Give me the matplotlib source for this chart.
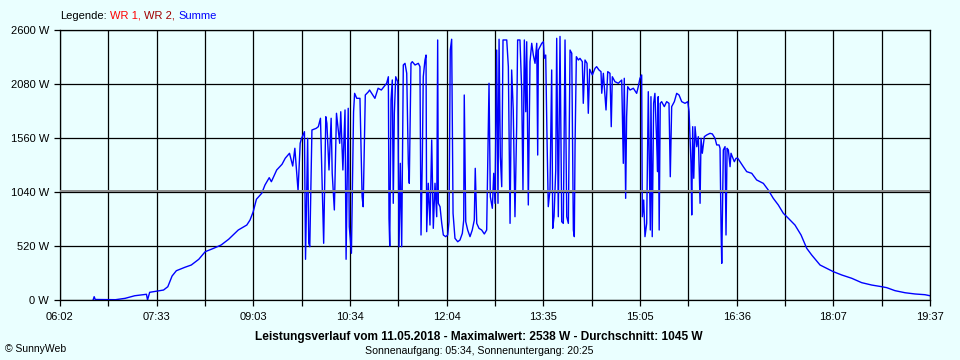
import matplotlib
matplotlib.use("Agg")
import matplotlib.pyplot as plt

# time of day in minutes after midnight, power in W (Summe)
minutes = [
    393, 394, 395, 414, 423, 432, 443, 444, 446, 459,
    463, 467, 471, 479, 485, 492, 498, 506, 513, 520,
    529, 537, 540, 543, 546, 551, 554, 558, 560, 565,
    570, 573, 577, 580, 582, 585, 587, 588, 591, 592,
    594, 595, 596, 598, 602, 604, 606, 609, 611, 612,
    614, 616, 617, 619, 621, 624, 625, 627, 629, 630,
    632, 633, 635, 637, 638, 640, 643, 645, 646, 648,
    651, 652, 657, 660, 663, 668.0, 669.6, 670.2, 670.9, 672.1,
    673.3, 674.2, 675.2, 676.5, 678.4, 679.6, 680.8, 682.1, 683.6, 685.2,
    686.8, 688.3, 689.2, 690.8, 692.0, 694.6, 697.7, 699.2, 700.2, 701.4,
    702.3, 703.9, 704.9, 705.5, 707.0, 708.6, 710.2, 711.7, 713.3, 714.9,
    715.8, 716.4, 718.0, 719.6, 721.1, 723.3, 725.2, 726.4, 727.6, 728.9,
    730.2, 732.0, 734.6, 736.7, 738.9, 740.2, 740.7, 742.1, 743.9, 746.1,
    748.2, 750.1, 751.0, 752.4, 754.5, 757.0, 759.5, 761.7, 763.9, 765.1,
    767.0, 768.3, 769.5, 771.1, 772.3, 773.3, 774.5, 775.8, 777.0, 780.5,
    782.0, 783.6, 785.1, 786.6, 788.2, 789.8, 790.7, 792.9, 794.5, 795.7,
    797.0, 798.3, 799.2, 800.7, 802.3, 803.9, 805.4, 807.0, 808.6, 809.5,
    810.1, 813.3, 814.8, 815.7, 817.0, 818.2, 819.4, 821.0, 822.6, 823.6,
    824.8, 826.4, 827.3, 828.8, 830.4, 832.0, 833.5, 835.1, 836.7, 838.2,
    839.8, 841.4, 842.9, 843.8, 844.5, 845.7, 847.6, 849.1, 851.3, 852.2,
    853.8, 855.7, 856.9, 858.2, 860.7, 863.2, 864.7, 866.9, 868.8, 869.5,
    871.0, 873.5, 875.1, 877.2, 878.4, 879.4, 881.9, 885.0, 888.2, 889.7,
    890.6, 891.9, 892.8, 893.8, 896.0, 899.1, 902.2, 903.7, 905.3, 906.9,
    907.5, 908.8, 910.0, 911.6, 912.6, 913.1, 914.1, 915.0, 915.6, 916.8,
    918.1, 919.3, 920.9, 921.8, 922.4, 923.3, 924.3, 925.6, 928.1, 930.3,
    932.5, 933.7, 935.0, 937.5, 939.7, 941.9, 944.4, 947.5, 950.1, 951.3,
    953.1, 953.8, 954.7, 955.7, 956.9, 958.5, 960.0, 961.6, 962.5, 963.7,
    965.6, 967.8, 970.9, 973.1, 975.6, 977.2, 979.4, 980.3, 981.3, 981.9,
    982.5, 983.4, 985.0, 985.9, 986.9, 988.1, 989.7, 990.6, 991.8, 993.7,
    995.3, 996.9, 999.0, 1002.1, 1005.3, 1010.0, 1014.6, 1020.9, 1025.5, 1030.2,
    1034.9, 1039.6, 1044.3, 1050.5, 1056.2, 1061.5, 1066.2, 1074.0, 1080.2, 1086.4,
    1094.3, 1103.7, 1113.0, 1122.4, 1131.8, 1136.4, 1144.2, 1153.6, 1163.0, 1172.3,
    1177.0,
]
watts = [
    0, 32, 5, 3, 16, 41, 55, 0, 74, 96,
    128, 231, 282, 315, 337, 392, 465, 498, 530, 585,
    674, 722, 770, 850, 970, 1028, 1107, 1178, 1139, 1252,
    1307, 1365, 1413, 1290, 1461, 1053, 1509, 1548, 1621, 392,
    1557, 546, 513, 1637, 1653, 1669, 1750, 546, 1765, 1702,
    1252, 1750, 1220, 867, 1798, 1509, 1813, 1252, 1830, 392,
    1846, 706, 450, 1813, 1990, 1942, 1942, 995, 898, 1974,
    2006, 2022, 1942, 2039, 2022, 2087, 2150, 787, 520, 1926,
    2119, 931, 1798, 2150, 2102, 513, 1316, 513, 2263, 2279,
    2183, 1316, 1124, 2279, 2295, 2263, 2279, 2247, 626, 1348,
    2150, 2311, 2359, 658, 1124, 722, 1541, 690, 1124, 802,
    2504, 931, 898, 739, 626, 610, 626, 754, 2408, 2511,
    835, 594, 561, 578, 642, 770, 1974, 754, 674, 610,
    674, 770, 1268, 738, 690, 674, 636, 674, 2087, 995,
    883, 1220, 931, 2407, 931, 2511, 1380, 1091, 2504, 2504,
    2247, 738, 2215, 1830, 802, 1669, 2504, 2504, 2022, 1059,
    2504, 1813, 2487, 915, 2295, 2472, 2359, 2279, 2472, 1396,
    2407, 2472, 2487, 2328, 2359, 1573, 899, 1059, 2215, 690,
    802, 1252, 2520, 802, 2538, 754, 738, 2504, 802, 738,
    2407, 2376, 674, 610, 1493, 2343, 2311, 2327, 2295, 1894,
    2311, 2279, 1798, 2222, 2167, 2231, 2247, 2215, 2199, 1991,
    2183, 1830, 2199, 2183, 1669, 2150, 2102, 2087, 2118, 1316,
    2135, 979, 1765, 2054, 2022, 2039, 1990, 2054, 2135, 2167,
    802, 963, 610, 738, 1637, 2006, 1316, 674, 1958, 610,
    1894, 1990, 1541, 1236, 1958, 674, 1894, 1910, 1862, 1910,
    1894, 1187, 1862, 1910, 1990, 1974, 1910, 1894, 1910, 1814,
    1316, 819, 1669, 1172, 1669, 1476, 1573, 931, 1557, 1413,
    1573, 1589, 1605, 1599, 1557, 1493, 1493, 1461, 674, 353,
    770, 1445, 1477, 626, 1461, 1445, 1284, 1413, 1380, 1332,
    1365, 1365, 1332, 1284, 1236, 1220, 1156, 1123, 1059, 979,
    915, 835, 787, 722, 626, 498, 433, 337, 305, 273,
    241, 209, 167, 144, 128, 119, 90, 70, 58, 51,
    41,
]

start_min = 362   # 06:02
end_min = 1177    # 19:37
average = 1045
y_ticks = [0, 520, 1040, 1560, 2080, 2600]
time_labels = ["06:02", "07:33", "09:03", "10:34", "12:04",
               "13:35", "15:05", "16:36", "18:07", "19:37"]

bg = "#eaffff"
plt.rcParams["font.family"] = ["Liberation Sans", "DejaVu Sans"]

fig = plt.figure(figsize=(9.6, 3.6), dpi=100, facecolor=bg)
ax = fig.add_axes([60 / 960, 60 / 360, 870 / 960, 270 / 360], facecolor=bg)

ax.plot(minutes, watts, color="#0000ff", lw=1.0, zorder=2)
ax.axhline(average, color="#8a8a8a", lw=1.4, zorder=3)

ax.set_xlim(start_min, end_min)
ax.set_ylim(0, 2600)

step = (end_min - start_min) / 18
grid_x = [start_min + i * step for i in range(19)]
ax.set_xticks(grid_x)
ax.set_xticklabels([time_labels[i // 2] if i % 2 == 0 else "" for i in range(19)])
ax.set_yticks(y_ticks)
ax.set_yticklabels([f"{v} W" for v in y_ticks])

ax.grid(True, color="black", lw=0.9, zorder=1)
ax.set_axisbelow(True)
for s in ax.spines.values():
    s.set_color("black")
    s.set_linewidth(0.9)
ax.tick_params(axis="x", length=4, width=0.9, pad=5, labelsize=8)
ax.tick_params(axis="y", length=4, width=0.9, pad=4, labelsize=8)

# legend line on top
t0 = fig.text(60 / 960, 1 - 21 / 360, "Legende:", fontsize=8, va="bottom")
t1 = ax.annotate("WR 1,", xy=(1, 0), xycoords=t0, xytext=(2.5, 0),
                 textcoords="offset points", va="bottom", fontsize=8, color="#ff0000")
t2 = ax.annotate("WR 2,", xy=(1, 0), xycoords=t1, xytext=(2.5, 0),
                 textcoords="offset points", va="bottom", fontsize=8, color="#a00000")
ax.annotate("Summe", xy=(1, 0), xycoords=t2, xytext=(2.5, 0),
            textcoords="offset points", va="bottom", fontsize=8, color="#0000ff")

fig.text(479 / 960, 1 - 337 / 360,
         "Leistungsverlauf vom 11.05.2018 - Maximalwert: 2538 W - Durchschnitt: 1045 W",
         ha="center", va="center", fontsize=8.6, fontweight="bold")
fig.text(479 / 960, 1 - 351 / 360, "Sonnenaufgang: 05:34, Sonnenuntergang: 20:25",
         ha="center", va="center", fontsize=7.6)
fig.text(5 / 960, 1 - 349 / 360, "\u00a9 SunnyWeb", ha="left", va="center", fontsize=7.5)

fig.savefig("out.png", dpi=100, facecolor=bg)
